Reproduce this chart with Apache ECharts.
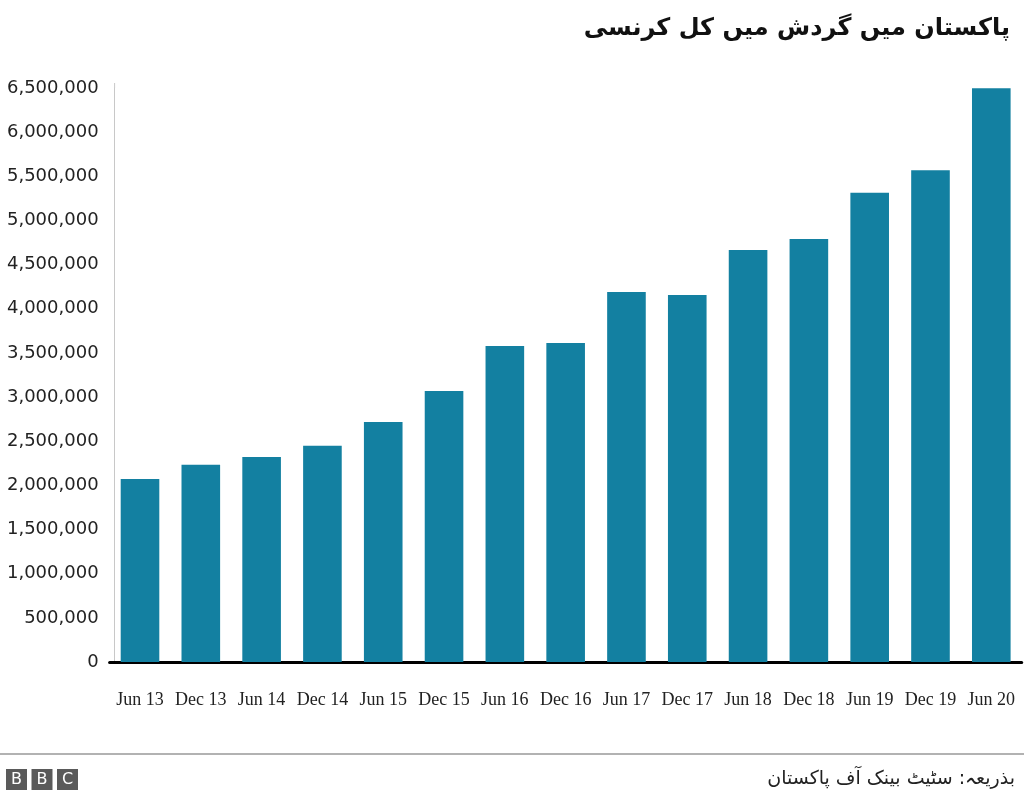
<!DOCTYPE html>
<html>
<head>
<meta charset="utf-8">
<script src="https://cdn.jsdelivr.net/npm/echarts@6/dist/echarts.min.js"></script>
<style>
  html, body { margin: 0; padding: 0; background: #fff; }
  #chart { width: 1024px; height: 800px; }
</style>
</head>
<body>
<div id="chart"></div>
<script>
const titleText = 'پاکستان میں گردش میں کل کرنسی';
const sourceText = 'بذریعہ: سٹیٹ بینک آف پاکستان';
const categories = ['Jun 13', 'Dec 13', 'Jun 14', 'Dec 14', 'Jun 15', 'Dec 15', 'Jun 16', 'Dec 16', 'Jun 17', 'Dec 17', 'Jun 18', 'Dec 18', 'Jun 19', 'Dec 19', 'Jun 20'];
const currencyValues = [2072000, 2235000, 2322000, 2450000, 2718000, 3068000, 3578000, 3612000, 4190000, 4155000, 4665000, 4790000, 5315000, 5570000, 6497000];
const yMin = 0;
const yMax = 6500000;
const yInterval = 500000;

const chart = echarts.init(document.getElementById('chart'), null, { renderer: 'canvas' });

const boxes = ['B', 'B', 'C'].map((ch, i) => ({
  type: 'group',
  left: 6 + i * 25.5,
  top: 769,
  children: [
    { type: 'rect', shape: { x: 0, y: 0, width: 21, height: 21 }, style: { fill: '#5a5a5a' } },
    { type: 'text', style: { x: 10.5, y: 11, text: ch, fill: '#fff', font: '16px "DejaVu Sans", sans-serif', align: 'center', verticalAlign: 'middle' } }
  ]
}));

chart.setOption({
  animation: false,
  backgroundColor: '#ffffff',
  title: {
    text: titleText,
    right: 9,
    top: 12,
    textStyle: { fontFamily: '"DejaVu Sans", sans-serif', fontWeight: 'bold', fontSize: 24, color: '#111' }
  },
  grid: { left: 109.6, right: 2.3, top: 88, bottom: 138, containLabel: false },
  xAxis: {
    type: 'category',
    data: categories,
    axisLine: { show: true, lineStyle: { color: '#000', width: 3 } },
    axisTick: { show: false },
    axisLabel: { fontFamily: '"Liberation Serif", serif', fontSize: 18, color: '#222', margin: 29, interval: 0 }
  },
  yAxis: {
    type: 'value',
    min: yMin,
    max: yMax,
    interval: yInterval,
    offset: -5,
    axisLine: { show: true, lineStyle: { color: '#c8c8c8', width: 1 } },
    axisTick: { show: false },
    splitLine: { show: false },
    axisLabel: {
      fontFamily: '"DejaVu Sans", sans-serif',
      fontSize: 18,
      color: '#222',
      margin: 16,
      formatter: v => v.toLocaleString('en-US')
    }
  },
  series: [{
    type: 'bar',
    data: currencyValues,
    barWidth: '63.5%',
    itemStyle: { color: '#1380A1' }
  }],
  graphic: [
    { type: 'line', shape: { x1: 0, y1: 754, x2: 1024, y2: 754 }, style: { stroke: '#999', lineWidth: 1.5 } },
    { type: 'line', shape: { x1: 114.6, y1: 83, x2: 114.6, y2: 88 }, style: { stroke: '#c8c8c8', lineWidth: 1 } },
    {
      type: 'text',
      right: 9,
      top: 770,
      style: { text: sourceText, font: '19px "DejaVu Sans", sans-serif', fill: '#222' }
    },
    ...boxes
  ]
});
</script>
</body>
</html>
